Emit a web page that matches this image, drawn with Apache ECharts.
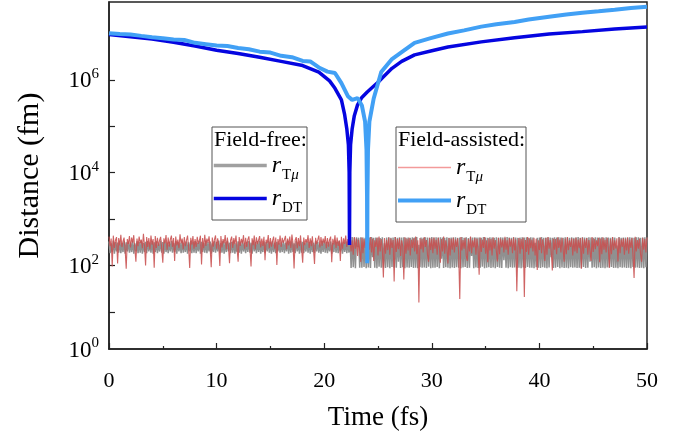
<!DOCTYPE html>
<html><head><meta charset="utf-8">
<script src="https://cdn.jsdelivr.net/npm/echarts@6/dist/echarts.min.js"></script>
<style>html,body{margin:0;padding:0;background:#fff}#c{width:693px;height:442px}</style>
</head><body><div id="c"></div>
<script>
// ---- data (distances in fm, time in fs) ----
const xTickLabels = [0, 10, 20, 30, 40, 50];
const yLabelExponents = [0, 2, 4, 6];

// Field-free r_DT
const tDT_ff = [0,2,4,6,8,10,12,14,16,18,19.5,20.5,21,21.6,21.9,22.1,22.25,22.32,22.35,22.38,22.45,22.6,22.8,23.1,23.5,24,25,25.3,26.3,27.2,28.4,30,31.5,34.6,37.7,40.9,44,47,50];
const rDT_ff = [9.55e6,8.51e6,7.59e6,6.46e6,5.37e6,4.37e6,3.72e6,3.09e6,2.51e6,2.04e6,1.48e6,9.55e5,6.61e5,3.72e5,1.78e5,8.9e4,3.98e4,1.0e4,275,1.0e4,3.98e4,8.9e4,1.7e5,2.9e5,4.2e5,5.5e5,8.9e5,1.05e6,1.78e6,2.51e6,3.47e6,4.27e6,5.13e6,6.61e6,8.13e6,9.77e6,1.1e7,1.26e7,1.38e7];

// Field-assisted r_DT
const tDT_fa = [0,1,2,3,4,5,6,7,8,9,10,11,12,13,14,15,16,17,18,18.7,19.5,20.3,21,21.6,22.2,22.6,23.1,23.5,23.8,23.93,23.98,24.0,24.02,24.07,24.2,24.6,25.3,26.3,27.2,28.4,29.9,31.5,33,34.6,36,37.7,39,40.9,42.5,44,45.5,47,48.5,50];
const rDT_fa = [1.02e7,9.77e6,9.55e6,8.91e6,8.32e6,7.94e6,7.41e6,7.24e6,6.31e6,5.89e6,5.5e6,5.37e6,4.9e6,4.57e6,4.07e6,3.89e6,3.31e6,3.09e6,2.57e6,2.51e6,1.86e6,1.51e6,1.41e6,8.51e5,4.47e5,3.72e5,4.07e5,2.82e5,1.26e5,3.16e4,3.16e3,112,3.16e3,3.16e4,1.26e5,3.98e5,1.48e6,2.82e6,3.98e6,6.31e6,7.94e6,1.0e7,1.17e7,1.41e7,1.58e7,1.78e7,2.0e7,2.29e7,2.57e7,2.82e7,3.02e7,3.24e7,3.55e7,3.8e7];

// r_Tmu samples, one every 0.1 fs from 0 to 50 fs (20 per row = 2 fs)
const sampleStep = 0.1;
const rT_ff = [
330,185,300,195,345,180,320,200,310,190,340,185,305,195,335,180,315,200,325,190,
310,195,340,180,300,200,330,185,320,190,345,180,305,195,325,185,335,200,310,190,
340,180,315,195,330,185,300,200,345,190,320,180,335,195,310,185,325,200,340,190,
305,195,335,180,320,200,310,185,345,190,300,195,330,180,315,200,340,185,325,190,
335,185,310,200,340,180,325,195,305,190,345,185,320,200,330,180,300,195,335,190,
320,200,345,185,305,190,335,180,315,195,340,200,310,185,325,190,345,180,300,195,
330,190,315,180,340,200,305,185,325,195,335,190,310,180,345,200,320,185,330,195,
345,180,300,195,330,185,320,200,340,190,315,180,335,195,305,185,325,200,310,190,
315,195,340,185,310,200,345,180,320,190,330,195,300,185,340,200,315,180,335,190,
325,185,305,200,335,190,320,180,345,195,310,185,330,200,325,190,300,180,340,195,
340,190,325,185,315,200,330,180,305,195,345,190,320,185,335,200,310,180,325,195,
330,185,315,190,400,88,410,92,395,87,405,250,398,90,408,89,402,93,396,87,
404,91,399,88,409,150,397,90,403,87,401,94,393,89,407,91,300,88,400,92,
406,87,398,93,402,89,410,90,395,120,404,88,399,92,408,87,396,91,401,89,
397,93,405,88,400,90,409,87,280,92,403,89,396,91,407,88,402,94,398,87,
410,90,394,89,404,93,399,87,406,140,401,88,395,92,408,90,397,87,403,91,
400,88,407,92,396,89,402,87,409,91,398,93,404,88,393,90,406,160,401,87,
405,91,399,88,403,90,397,94,410,87,400,89,395,92,408,88,402,91,396,87,
404,93,398,89,406,88,401,130,394,90,409,87,403,92,397,89,405,91,400,88,
396,90,402,87,408,91,399,88,404,93,395,89,407,90,401,87,310,92,398,89,
403,88,409,92,397,89,402,87,405,91,400,150,394,88,406,90,399,93,404,87,
401,91,396,88,408,90,403,87,398,92,407,89,395,91,402,88,409,90,397,87,
405,93,400,88,394,90,406,120,401,89,397,92,408,87,403,91,399,88,404,90,
398,87,407,91,402,89,396,93,405,88,400,90,270,87,409,92,397,89,403,91,
401,88,395,90,406,87,402,93,398,89,408,91,404,88,396,90,400,87,405,92,
400];
const rT_fa = [
420,260,380,95,440,240,350,410,110,390,270,460,250,330,400,220,85,370,290,430,
245,400,310,450,230,120,380,260,420,300,360,235,480,270,100,410,250,390,225,440,
280,370,90,430,240,395,265,350,415,230,115,385,300,455,220,400,255,365,440,250,
390,125,420,270,360,235,470,300,380,225,410,260,350,440,240,88,395,280,430,230,
370,250,415,290,350,440,105,390,235,460,265,380,310,425,240,92,400,255,360,445,
230,385,270,98,430,245,370,300,455,225,400,260,112,350,420,240,390,285,440,235,
120,410,265,375,300,450,230,395,250,360,425,240,95,385,275,440,225,405,290,350,
430,245,380,265,415,130,360,300,455,235,390,255,345,420,230,400,102,370,280,440,
250,395,310,360,435,225,380,270,420,240,465,300,86,350,410,235,390,260,445,230,
115,400,275,370,310,450,240,385,260,425,230,108,395,290,355,440,245,410,265,380,
300,430,235,390,255,360,420,118,375,280,450,240,400,265,350,125,415,230,385,290,
440,250,370,300,390,200,350,170,410,230,380,160,360,210,120,400,185,370,240,395,
175,360,220,410,190,380,125,350,250,395,165,420,200,370,230,55,390,180,360,215,
400,170,380,240,355,45,410,195,370,225,390,160,350,260,50,405,180,375,210,395,
165,360,240,385,200,420,175,350,16,390,225,370,190,410,250,355,170,120,395,215,
380,185,405,230,360,170,395,260,115,370,200,420,180,350,240,110,390,165,375,220,
400,190,365,250,385,175,19,410,210,355,230,395,165,125,370,200,420,185,350,245,
390,170,375,220,63,400,195,360,240,410,180,350,118,385,210,370,165,405,230,355,
200,122,395,175,380,245,360,190,415,220,350,170,390,255,370,185,405,210,365,28,
240,390,180,370,225,400,21,355,195,410,170,385,235,360,200,395,165,375,80,350,
215,400,185,365,250,125,390,170,410,230,355,195,78,380,220,370,175,405,240,360,
190,395,230,120,375,175,410,215,350,250,385,165,370,200,400,185,360,235,390,85,
400,180,365,240,390,170,355,210,125,410,195,375,225,350,260,395,118,380,175,405,
220,360,190,395,245,90,370,175,410,215,350,230,385,122,400,185,365,250,390,170,
375,210,405,180,360,240,390,165,54,415,200,355,230,380,175,120,395,220,370,190,
400];

// ---- build ----
const FONT = "'Liberation Serif','Times New Roman',serif";
const lg = v => Math.log10(v);
const pairs = (ts, vs) => ts.map((t, i) => [t, lg(vs[i])]);
const sampled = vs => vs.map((v, i) => [+(i * sampleStep).toFixed(2), lg(v)]);

const legendRich = {
  r: {fontFamily: FONT, fontStyle: 'italic', fontSize: 24, color: '#000', lineHeight: 30, verticalAlign: 'middle'},
  s: {fontFamily: FONT, fontSize: 15, color: '#000', lineHeight: 30, verticalAlign: 'middle', padding: [20, 0, 0, 1]},
  m: {fontFamily: FONT, fontStyle: 'italic', fontSize: 15, color: '#000', lineHeight: 30, verticalAlign: 'middle', padding: [20, 0, 0, 0]}
};
const legendFmt = name => name.endsWith('_T') ? '{r|r}{s|T}{m|μ}' : '{r|r}{s|DT}';
const noSym = {opacity: 0, borderWidth: 0};

const chart = echarts.init(document.getElementById('c'), null, {renderer: 'canvas'});
chart.setOption({
  animation: false,
  backgroundColor: '#fff',
  grid: {left: 109, right: 46, top: 2, bottom: 93, show: true, borderColor: '#222', borderWidth: 1.5, backgroundColor: 'transparent'},
  xAxis: {
    type: 'value', min: xTickLabels[0], max: xTickLabels[xTickLabels.length - 1], interval: 10,
    name: 'Time (fs)', nameLocation: 'middle', nameGap: 55,
    nameTextStyle: {fontFamily: FONT, fontSize: 27, color: '#000'},
    axisLine: {lineStyle: {color: '#222', width: 1.5}},
    axisTick: {inside: true, length: 6, lineStyle: {color: '#222', width: 1.2}},
    minorTick: {show: true, splitNumber: 2, length: 3, lineStyle: {color: '#222', width: 1.2}},
    axisLabel: {fontFamily: FONT, fontSize: 22, color: '#000', margin: 21},
    splitLine: {show: false}
  },
  yAxis: {
    type: 'value', min: 0.2, max: 7.68,
    name: 'Distance (fm)', nameLocation: 'middle', nameGap: 64,
    nameTextStyle: {fontFamily: FONT, fontSize: 30, color: '#000'},
    axisLine: {lineStyle: {color: '#222', width: 1.5}},
    axisTick: {inside: true, length: 6, lineStyle: {color: '#222', width: 1.2}, customValues: [1, 2, 3, 4, 5, 6, 7]},
    axisLabel: {
      margin: 10,
      customValues: yLabelExponents.map(e => e === 0 ? 0.2 : e),
      formatter: v => '{b|10}{e|' + (v < 1 ? 0 : Math.round(v)) + '}',
      rich: {
        b: {fontFamily: FONT, fontSize: 23, color: '#000', lineHeight: 26, verticalAlign: 'bottom'},
        e: {fontFamily: FONT, fontSize: 15, color: '#000', lineHeight: 26, verticalAlign: 'top'}
      }
    },
    splitLine: {show: false}
  },
  legend: [
    {orient: 'vertical', left: 212, top: 148, padding: 0, itemWidth: 53, itemHeight: 14, itemGap: -2, selectedMode: false,
     formatter: legendFmt, textStyle: {rich: legendRich},
     data: [{name: 'ff_T', itemStyle: noSym, lineStyle: {width: 3.5, color: '#a0a0a0', opacity: 1}},
            {name: 'ff_DT', itemStyle: noSym, lineStyle: {width: 3.5}}]},
    {orient: 'vertical', left: 396, top: 150, padding: 0, itemWidth: 53, itemHeight: 14, itemGap: -2, selectedMode: false,
     formatter: legendFmt, textStyle: {rich: legendRich},
     data: [{name: 'fa_T', itemStyle: noSym, lineStyle: {width: 1.4, color: '#f39a9a', opacity: 1}},
            {name: 'fa_DT', itemStyle: noSym, lineStyle: {width: 4}}]}
  ],
  graphic: [
    {type: 'rect', shape: {x: 212, y: 127, width: 95, height: 93}, style: {fill: 'none', stroke: '#555', lineWidth: 1}, silent: true},
    {type: 'rect', shape: {x: 396, y: 127, width: 130, height: 95}, style: {fill: 'none', stroke: '#555', lineWidth: 1}, silent: true},
    {type: 'text', x: 214, y: 140.5, style: {text: 'Field-free:', font: '22px ' + FONT, fill: '#000', verticalAlign: 'middle', align: 'left'}, silent: true},
    {type: 'text', x: 398, y: 140.5, style: {text: 'Field-assisted:', font: '22px ' + FONT, fill: '#000', verticalAlign: 'middle', align: 'left'}, silent: true}
  ],
  series: [
    {name: 'ff_T', type: 'line', data: sampled(rT_ff), symbol: 'none', lineStyle: {color: '#909090', width: 1.5}, itemStyle: {color: '#909090'}, z: 2},
    {name: 'fa_T', type: 'line', data: sampled(rT_fa), symbol: 'none', lineStyle: {color: '#c84f4f', width: 1.1, opacity: 0.88}, itemStyle: {color: '#c84f4f'}, z: 3},
    {name: 'ff_DT', type: 'line', data: pairs(tDT_ff, rDT_ff), symbol: 'none', lineStyle: {color: '#0505e0', width: 3.5}, itemStyle: {color: '#0505e0'}, z: 4},
    {name: 'fa_DT', type: 'line', data: pairs(tDT_fa, rDT_fa), symbol: 'none', lineStyle: {color: '#41a0f5', width: 4}, itemStyle: {color: '#41a0f5'}, z: 5}
  ]
});
</script>
</body></html>
